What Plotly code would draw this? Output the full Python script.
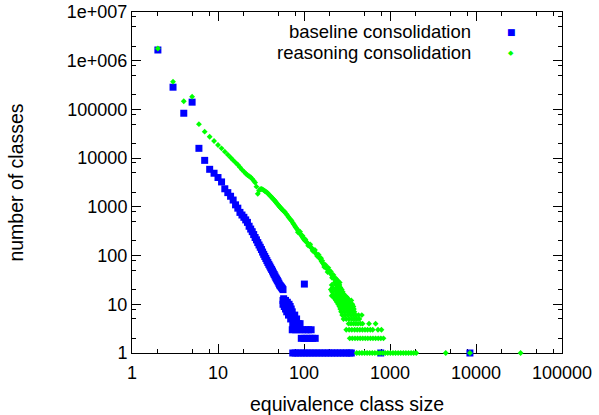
import plotly.graph_objects as go

# ---------------- data ----------------
baseline_size = [
    2, 3, 4, 5, 6, 7, 8, 9, 10, 11, 12, 13, 14, 15, 16, 17, 18, 19, 20,
    21, 22, 23, 24, 25, 26, 27, 28, 29, 30, 31, 32, 33, 34, 35, 36, 37, 38,
    39, 40, 41, 42, 43, 44, 45, 46, 47, 48, 49, 50, 51, 52, 53, 54, 55, 56, 57,
    58, 57, 61, 58, 64, 57, 62, 67, 59, 64, 69, 61, 66, 71, 63, 68, 73,
    66, 72, 78, 70, 76, 82, 74, 80, 86, 90,
    73, 80, 88, 96, 105, 113, 121,
    93, 100, 108, 117, 126, 135,
    101,
    74, 79, 85, 92, 100, 108, 117, 127, 138, 150, 163, 177, 192, 208, 226,
    245, 266, 289, 313, 340, 355, 780, 8500,
]
baseline_count = [
    1660000, 286000, 83500, 141000, 15900, 9000, 5900, 4900, 4000, 3250, 2350,
    1960, 1650, 1380, 1100, 940, 770, 680, 610,
    540, 480, 400, 350, 310, 270, 235, 210, 185, 165, 148, 133, 118, 106, 96,
    87, 79, 72, 66, 61, 56, 52, 48, 44, 41, 38, 35, 33, 31, 29, 27, 25, 24, 23,
    22, 21, 20,
    13, 12, 12, 11, 11, 10, 10, 10, 9, 9, 9, 8, 8, 8, 7, 7, 7,
    6, 6, 6, 5, 5, 5, 4, 4, 4, 4,
    3, 3, 3, 3, 3, 3, 3,
    2, 2, 2, 2, 2, 2,
    26,
    1, 1, 1, 1, 1, 1, 1, 1, 1, 1, 1, 1, 1, 1, 1,
    1, 1, 1, 1, 1, 1, 1, 1,
]

reasoning_size = [
    2, 3, 4, 5, 6, 7, 8, 9, 10, 11, 12, 13, 14, 15, 16, 17, 18, 19, 20,
    21, 22, 23, 24, 25, 26, 27, 28, 29, 30, 31, 32, 33, 34, 35, 36, 37, 38,
    39, 40, 41, 42, 43, 44, 45, 46, 47, 48, 49, 50, 51, 52, 53, 54, 55, 56,
    57, 58, 59, 60, 62, 64, 66, 68, 70, 72, 74, 76, 78,
    80, 82, 84, 86, 88, 90, 92, 94, 96, 98, 100, 102, 105, 108, 111, 114, 117,
    120, 124, 128, 132, 136, 140, 145, 150, 155, 160, 165, 170, 175, 180, 185,
    190, 195, 200, 207, 215, 222, 230, 238, 248,
    85, 90, 96, 104, 112, 118, 126, 134, 142, 148, 158, 163, 172, 178, 188,
    192, 205, 212, 220, 228, 235, 245, 255, 260,
    210, 235, 258,
    215, 240, 265,
    205, 228, 252, 275,
    212, 236, 260, 282,
    218, 244, 268, 292,
    210, 232, 256, 280, 300,
    222, 248, 272, 296, 315,
    228, 254, 278, 302, 325,
    235, 260, 285, 310, 335, 355,
    242, 266, 290, 315, 340,
    250, 274, 298, 322, 346, 365,
    258, 282, 306, 330, 354, 375,
    264, 288, 312, 336, 360, 380,
    270, 294, 318, 342, 366, 385,
    278, 300, 325, 350, 375, 400, 430, 470,
    288, 310, 335, 360, 385, 410, 440,
    330, 352, 376, 400, 425, 455, 480, 570, 680,
    310, 335, 360, 388, 416, 446, 478, 512, 548, 590, 630, 725, 795,
    340, 365, 392, 420, 450, 482, 516, 552, 592, 634, 680, 730, 782, 840,
    410, 440, 472, 506, 542, 580, 622, 667, 715, 766, 821, 880, 943, 1010,
    1083, 1160, 1244, 1333, 1429, 1531, 1641, 1759, 1885, 2020, 4450, 8500,
    33000,
]
reasoning_count = [
    1780000, 372000, 147000, 183000, 49800, 35000, 27500, 22500, 18600, 15900,
    13600, 11800, 10300, 9100, 8100, 7300, 6500, 5800, 5300,
    4850, 4500, 4250, 4050, 3750, 3450, 3150, 2600, 1850, 2150, 2300, 2330,
    2280, 2200, 2120, 2050, 1980, 1900, 1800, 1720, 1650, 1580, 1500, 1440,
    1380, 1320, 1260, 1200, 1140, 1100, 1050, 1010, 975, 940, 905, 875,
    845, 820, 800, 780, 720, 670, 620, 580, 545, 515, 470, 440, 410,
    380, 360, 340, 320, 300, 282, 268, 255, 240, 228, 215, 205, 196, 186, 176,
    166, 158, 148, 140, 130, 122, 113, 106, 98, 91, 84, 76, 70, 65, 61, 57,
    54, 51, 48, 45, 41, 38, 35, 32, 30, 27,
    300, 310, 255, 215, 160, 170, 125, 130, 98, 104, 88, 78, 58, 64, 46,
    56, 47, 35, 40, 28, 34, 31, 25, 28,
    25, 25, 25,
    22, 22, 22,
    20, 20, 20, 20,
    18, 18, 18, 18,
    16, 16, 16, 16,
    15, 15, 15, 15, 15,
    14, 14, 14, 14, 14,
    13, 13, 13, 13, 13,
    12, 12, 12, 12, 12, 12,
    11, 11, 11, 11, 11,
    10, 10, 10, 10, 10, 10,
    9, 9, 9, 9, 9, 9,
    8, 8, 8, 8, 8, 8,
    7, 7, 7, 7, 7, 7,
    6, 6, 6, 6, 6, 6, 6, 6,
    5, 5, 5, 5, 5, 5, 5,
    4, 4, 4, 4, 4, 4, 4, 4, 4,
    3, 3, 3, 3, 3, 3, 3, 3, 3, 3, 3, 3, 3,
    2, 2, 2, 2, 2, 2, 2, 2, 2, 2, 2, 2, 2, 2,
    1, 1, 1, 1, 1, 1, 1, 1, 1, 1, 1, 1, 1, 1,
    1, 1, 1, 1, 1, 1, 1, 1, 1, 1, 1, 1,
    1,
]

x_tick_vals = [1, 10, 100, 1000, 10000, 100000]
x_tick_text = ["1", "10", "100", "1000", "10000", "100000"]
y_tick_vals = [1, 10, 100, 1000, 10000, 100000, 1000000, 10000000]
y_tick_text = ["1", "10", "100", "1000", "10000", "100000", "1e+006", "1e+007"]
x_minor_vals = [m * 10 ** e for e in range(0, 5) for m in (2, 5, 8)]
y_minor_vals = [m * 10 ** e for e in range(0, 7) for m in (2, 5, 8)]

series_names = ["baseline consolidation", "reasoning consolidation"]
series_colors = ["#0000ff", "#00ff00"]

FONT = "Liberation Sans, Arial, Helvetica, sans-serif"

fig = go.Figure()
fig.add_trace(go.Scatter(
    x=baseline_size, y=baseline_count, mode="markers", name=series_names[0],
    marker=dict(symbol="square", size=7, color=series_colors[0], line=dict(width=0)),
    cliponaxis=False, showlegend=False,
))
fig.add_trace(go.Scatter(
    x=reasoning_size, y=reasoning_count, mode="markers", name=series_names[1],
    marker=dict(symbol="diamond", size=4.5, color=series_colors[1], line=dict(width=0)),
    cliponaxis=False, showlegend=False,
))

axis_common = dict(
    type="log", ticks="inside", ticklen=9, tickwidth=1, tickcolor="black",
    showline=True, linecolor="black", linewidth=1, mirror="allticks",
    showgrid=False, zeroline=False, layer="below traces",
    tickfont=dict(family=FONT, size=18, color="black"),
    tickmode="array",
)

fig.update_layout(
    width=599, height=415,
    margin=dict(l=132, r=37, t=12, b=62, autoexpand=False),
    paper_bgcolor="white", plot_bgcolor="white",
    font=dict(family=FONT, color="black"),
    xaxis=dict(
        **axis_common, range=[0, 5], tickvals=x_tick_vals, ticktext=x_tick_text,
        ticklabelstandoff=3,
        minor=dict(tickmode="array", tickvals=x_minor_vals, ticks="inside",
                   ticklen=4, tickwidth=1, tickcolor="black", showgrid=False),
        title=dict(text="equivalence class size", font=dict(family=FONT, size=19.5), standoff=15),
    ),
    yaxis=dict(
        **axis_common, range=[0, 7], tickvals=y_tick_vals, ticktext=y_tick_text,
        minor=dict(tickmode="array", tickvals=y_minor_vals, ticks="inside",
                   ticklen=4, tickwidth=1, tickcolor="black", showgrid=False),
        title=dict(text="number of classes", font=dict(family=FONT, size=19.5), standoff=37),
    ),
)

# gnuplot-style key: text right-aligned, sample to its right
key_rows_y = [0.9428, 0.8812]
key_glyphs = ["■", "◆"]
key_glyph_sizes = [9, 7]
for i in range(2):
    fig.add_annotation(
        xref="paper", yref="paper", x=0.7907, y=key_rows_y[i],
        xanchor="right", yanchor="middle", showarrow=False, borderpad=0,
        text=series_names[i], font=dict(family=FONT, size=18.5, color="black"),
    )
    fig.add_annotation(
        xref="paper", yref="paper", x=0.8814, y=key_rows_y[i],
        xanchor="center", yanchor="middle", showarrow=False, borderpad=0,
        text=key_glyphs[i], font=dict(family="DejaVu Sans", size=key_glyph_sizes[i], color=series_colors[i]),
    )

fig.write_html("out.html", config={"displayModeBar": False},
               post_script="document.body.style.margin='0';")
